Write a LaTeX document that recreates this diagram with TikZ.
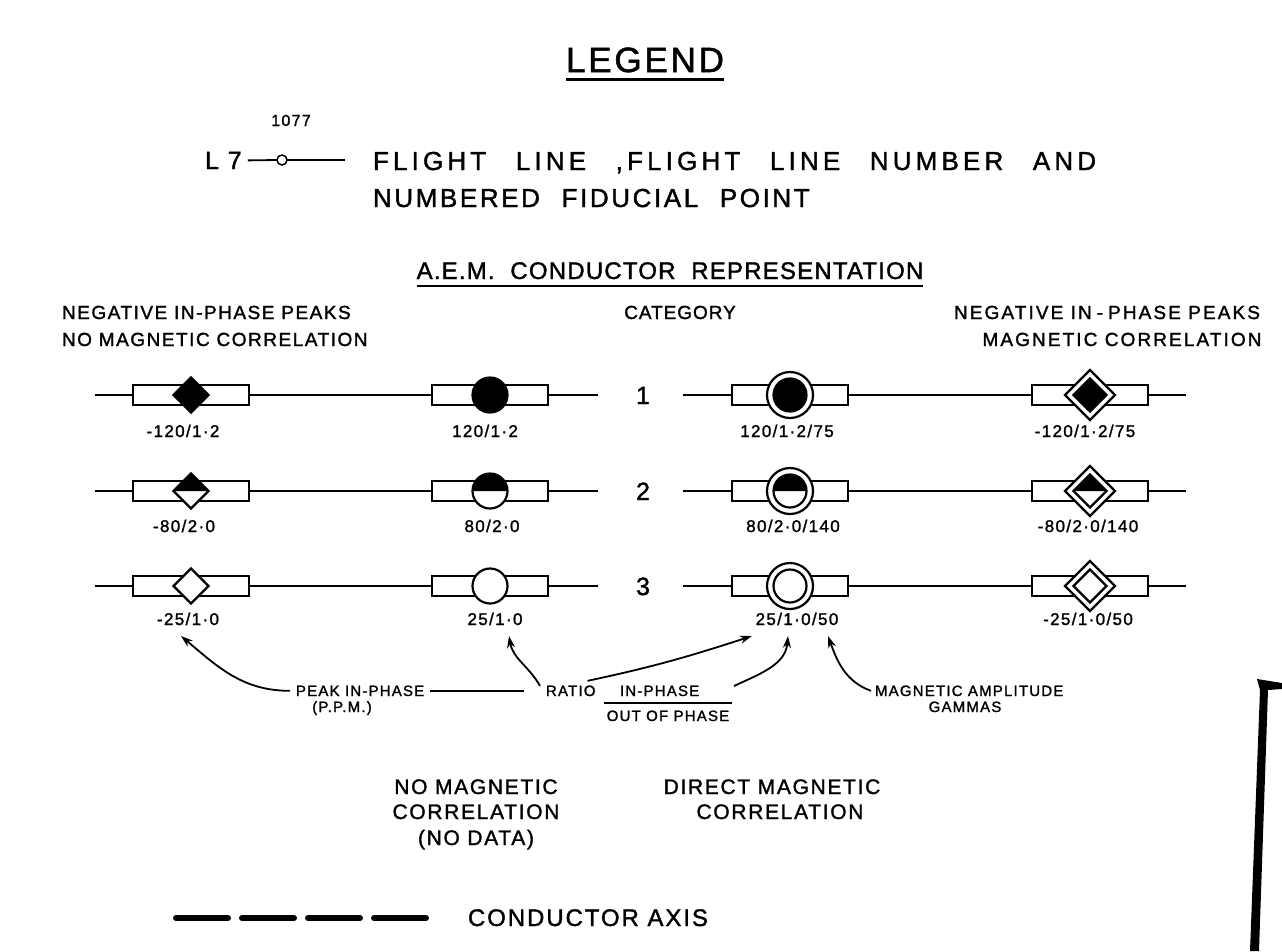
\documentclass[tikz,border=0pt]{standalone}
\usepackage{fontspec}
\setmainfont{Liberation Sans}
\newfontfamily\fT[LetterSpace=8,FakeBold=1.5]{Liberation Sans}
\newfontfamily\fS[LetterSpace=5,FakeBold=1.5]{Liberation Sans}
\newfontfamily\fQ[LetterSpace=11,FakeBold=1.5]{Liberation Sans}
\newfontfamily\fW[LetterSpace=16,WordSpace=2.6,FakeBold=1.5]{Liberation Sans}
\newfontfamily\fV[LetterSpace=10,WordSpace=2.2,FakeBold=1.5]{Liberation Sans}
\usetikzlibrary{arrows.meta}
\newcommand\fsz[1]{\fontsize{#1}{#1}\selectfont}
\newcommand\dmd[1]{(0,-#1) -- (#1,0) -- (0,#1) -- (-#1,0) -- cycle}
\newcommand\uptri[1]{(0,-#1) -- (#1,0) -- (-#1,0) -- cycle}
\newcommand\uphalf[1]{(-#1,0) arc[start angle=180,end angle=360,radius=#1] -- cycle}
\begin{document}
\begin{tikzpicture}[x=1pt,y=-1pt,
  every node/.style={inner sep=0pt, outer sep=0pt},
  ln/.style={line width=1.8pt},
  bx/.style={draw, line width=2.2pt, fill=white, minimum width=116pt, minimum height=20pt},
  sym/.style={line width=2.2pt},
  arr/.style={line width=1.8pt, -{Stealth[length=12pt,width=8pt]}},
  head/.style={font=\fT\fsz{19}},
  lab/.style={font=\fT\fsz{17}},
  sm/.style={font=\fT\fsz{15}},
  mid/.style={font=\fT\fsz{21}},
]
\useasboundingbox (0,0) rectangle (1282,951);

% title
\node[font=\fT\fsz{35}, anchor=base] (legend) at (645,72) {LEGEND};
\draw[line width=2.8pt] ([yshift=-7pt]legend.south west) -- ([yshift=-7pt]legend.south east);

% flight line
\node[font=\fT\fsz{25}, anchor=base west] (l7) at (205,169) {L 7};
\node[draw, circle, line width=1.5pt, minimum size=10pt] (fid) at (282,160) {};
\node[font=\fT\fsz{16}, anchor=base] (fidno) at (291,126) {1077};
\coordinate (fend) at (345,160);
\draw[ln] ([xshift=6pt]l7.east) -- (fid.west);
\draw[ln] (fid.east) -- (fend);
\node[font=\fW\fsz{26}, anchor=base west] (fl1) at (373,170) {FLIGHT LINE ,FLIGHT LINE NUMBER AND};
\node[font=\fV\fsz{26}, anchor=base west] (fl2) at (373,207) {NUMBERED FIDUCIAL POINT};

% AEM heading
\node[font=\fS\fsz{24}, anchor=base] (aem) at (670,279) {A.E.M.\ \ CONDUCTOR\ \ REPRESENTATION};
\draw[line width=2.2pt] ([yshift=-7pt]aem.south west) -- ([yshift=-7pt]aem.south east);

% column headings
\node[head, anchor=base west] (hl1) at (62,319) {NEGATIVE IN-PHASE PEAKS};
\node[head, anchor=base west] (hl2) at (62,346) {NO MAGNETIC CORRELATION};
\node[font=\fS\fsz{19}, anchor=base] (cat) at (680,319) {CATEGORY};
\node[font=\fQ\fsz{19}, anchor=base] (hr1) at (1107,319) {NEGATIVE IN\kern5pt-\kern5pt PHASE PEAKS};
\node[font=\fQ\fsz{19}, anchor=base] (hr2) at (1122,346) {MAGNETIC CORRELATION};

% rows
\foreach \r/\y in {1/395,2/491,3/586} {
  \foreach \c/\x in {1/191,2/490,3/790,4/1090} {
    \node[bx] (b\r\c) at (\x,\y) {};
  }
  \coordinate (la\r) at (95,\y);
  \coordinate (ra\r) at (598,\y);
  \coordinate (lb\r) at (683,\y);
  \coordinate (rb\r) at (1186,\y);
  \draw[ln] (la\r) -- (b\r1.west) (b\r1.east) -- (b\r2.west) (b\r2.east) -- (ra\r);
  \draw[ln] (lb\r) -- (b\r3.west) (b\r3.east) -- (b\r4.west) (b\r4.east) -- (rb\r);
  \node[font=\fT\fsz{25}, anchor=base] (n\r) at (643,\y+9) {\r};
}

% column 1 : diamonds
\begin{scope}[shift={(b11.center)}]
  \filldraw[sym] \dmd{17.5};
\end{scope}
\begin{scope}[shift={(b21.center)}]
  \draw[sym, fill=white] \dmd{17.5};
  \fill \uptri{17.5};
\end{scope}
\begin{scope}[shift={(b31.center)}]
  \draw[sym, fill=white] \dmd{17.5};
\end{scope}
% column 2 : circles
\begin{scope}[shift={(b12.center)}]
  \filldraw[sym] (0,0) circle[radius=17.5];
\end{scope}
\begin{scope}[shift={(b22.center)}]
  \draw[sym, fill=white] (0,0) circle[radius=17.5];
  \fill \uphalf{17.5};
\end{scope}
\begin{scope}[shift={(b32.center)}]
  \draw[sym, fill=white] (0,0) circle[radius=17.5];
\end{scope}
% column 3 : double circles
\begin{scope}[shift={(b13.center)}]
  \draw[sym, fill=white] (0,0) circle[radius=23];
  \filldraw[sym] (0,0) circle[radius=16.5];
\end{scope}
\begin{scope}[shift={(b23.center)}]
  \draw[sym, fill=white] (0,0) circle[radius=23];
  \draw[sym, fill=white] (0,0) circle[radius=16.5];
  \fill \uphalf{16.5};
\end{scope}
\begin{scope}[shift={(b33.center)}]
  \draw[sym, fill=white] (0,0) circle[radius=23];
  \draw[sym, fill=white] (0,0) circle[radius=16.5];
\end{scope}
% column 4 : double diamonds
\begin{scope}[shift={(b14.center)}]
  \draw[sym, fill=white] \dmd{25};
  \filldraw[sym] \dmd{16.5};
\end{scope}
\begin{scope}[shift={(b24.center)}]
  \draw[sym, fill=white] \dmd{25};
  \draw[sym, fill=white] \dmd{16.5};
  \fill \uptri{16.5};
\end{scope}
\begin{scope}[shift={(b34.center)}]
  \draw[sym, fill=white] \dmd{25};
  \draw[sym, fill=white] \dmd{16.5};
\end{scope}

% value labels
\node[lab, anchor=base] (v11) at (183,437) {-120/1·2};
\node[lab, anchor=base] (v12) at (485,437) {120/1·2};
\node[lab, anchor=base] (v13) at (787,437) {120/1·2/75};
\node[lab, anchor=base] (v14) at (1085,437) {-120/1·2/75};
\node[lab, anchor=base] (v21) at (184,532) {-80/2·0};
\node[lab, anchor=base] (v22) at (492,532) {80/2·0};
\node[lab, anchor=base] (v23) at (793,532) {80/2·0/140};
\node[lab, anchor=base] (v24) at (1088,532) {-80/2·0/140};
\node[lab, anchor=base] (v31) at (188,625) {-25/1·0};
\node[lab, anchor=base] (v32) at (495,625) {25/1·0};
\node[lab, anchor=base] (v33) at (797,625) {25/1·0/50};
\node[lab, anchor=base] (v34) at (1088,625) {-25/1·0/50};

% explanation labels
\node[sm, anchor=base west] (peak) at (296,696) {PEAK IN-PHASE};
\node[sm, anchor=base] (ppm) at (342,712) {(P.P.M.)};
\node[sm, anchor=base west] (ratio) at (546,696) {RATIO};
\node[sm, anchor=base west] (inph) at (620,696) {IN-PHASE};
\node[sm, anchor=base] (outph) at (668,721) {OUT OF PHASE};
\coordinate (barL) at (604,703);
\coordinate (barR) at (732,703);
\draw[line width=1.6pt] (barL) -- (barR);
\node[sm, anchor=base west] (mag) at (875,696) {MAGNETIC AMPLITUDE};
\node[sm, anchor=base] (gam) at (965,712) {GAMMAS};

\coordinate (tA) at (181,636);
\coordinate (tB) at (509,636);
\coordinate (tC) at (752,636);
\coordinate (tD) at (788,636);
\coordinate (tE) at (828,636);
\coordinate (sD) at (734,686);
\draw[arr] ([xshift=-6pt]peak.west) to[out=180,in=-40] (tA);
\draw[ln] ([xshift=6pt]peak.east) -- ([xshift=-22pt]ratio.west);
\draw[arr] ([shift={(-6,-5)}]ratio.west) to[out=120,in=-80] (tB);
\draw[arr] ([shift={(-8,-10)}]ratio.east) to[out=12,in=198] (tC);
\draw[arr] (sD) to[out=25,in=-95] (tD);
\draw[arr] ([xshift=-4pt]mag.west) to[out=160,in=-70] (tE);

% bottom captions
\node[mid, anchor=base] (nm1) at (476,794) {NO MAGNETIC};
\node[mid, anchor=base] (nm2) at (476,819) {CORRELATION};
\node[mid, anchor=base] (nm3) at (476,845) {(NO DATA)};
\node[mid, anchor=base] (dm1) at (772,794) {DIRECT MAGNETIC};
\node[mid, anchor=base] (dm2) at (780,819) {CORRELATION};

% conductor axis
\coordinate (axL) at (176,918);
\coordinate (axR) at (426,918);
\draw[line width=6pt, line cap=round, dash pattern=on 52pt off 14pt] (axL) -- (axR);
\node[font=\fT\fsz{24}, anchor=base west] (axis) at (468,926) {CONDUCTOR AXIS};

% thick bar at right edge
\fill (1257,679) -- (1282,683) -- (1282,689) -- (1268,690) -- (1259,951) -- (1250,951) -- (1260,690) -- cycle;
\end{tikzpicture}
\end{document}
